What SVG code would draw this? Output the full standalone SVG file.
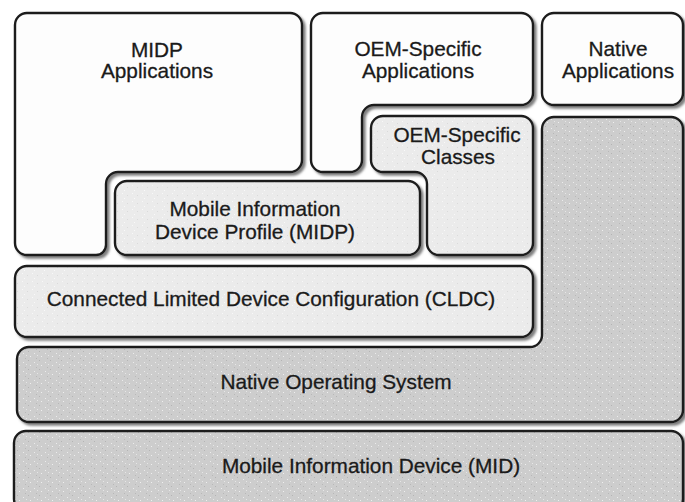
<svg xmlns="http://www.w3.org/2000/svg" width="685" height="502" viewBox="0 0 685 502">
  <defs>
    <!-- stippled fills for the shaded layers -->
    <pattern id="stippleDark" width="11" height="9" patternUnits="userSpaceOnUse">
      <rect width="11" height="9" fill="#cdcdcd"/>
      <rect x="1" y="2" width="1" height="1" fill="#ececec"/>
      <rect x="6" y="0" width="1" height="1" fill="#b4b4b4"/>
      <rect x="8" y="5" width="1" height="1" fill="#efefef"/>
      <rect x="3" y="7" width="1" height="1" fill="#b8b8b8"/>
      <rect x="4" y="4" width="1" height="1" fill="#e6e6e6"/>
    </pattern>
    <pattern id="stippleLight" width="10" height="8" patternUnits="userSpaceOnUse">
      <rect width="10" height="8" fill="#ebebeb"/>
      <rect x="2" y="1" width="1" height="1" fill="#f8f8f8"/>
      <rect x="7" y="3" width="1" height="1" fill="#dadada"/>
      <rect x="4" y="6" width="1" height="1" fill="#f9f9f9"/>
    </pattern>
    <filter id="shadow" x="-5%" y="-5%" width="115%" height="115%">
      <feDropShadow dx="2.5" dy="2.5" stdDeviation="1" flood-color="#6f6f6f" flood-opacity="0.9"/>
    </filter>
  </defs>
  <style>
    .box { stroke: #1c1c1c; stroke-width: 2.4; filter: url(#shadow); }
    .white { fill: #fdfdfd; }
    .light { fill: url(#stippleLight); }
    .dark { fill: url(#stippleDark); }
    .label { font-family: "Liberation Sans", Arial, Helvetica, sans-serif; font-size: 20.8px; fill: #1a1a1a; stroke: #1a1a1a; stroke-width: 0.3; text-anchor: middle; }
  </style>

  <rect width="685" height="502" fill="#ffffff"/>

  <!-- hardware and operating system layers -->
  <g id="mid">
    <rect class="box dark" x="14" y="431" width="669" height="80" rx="12"/>
    <text class="label" x="371" y="473">Mobile Information Device (MID)</text>
  </g>

  <g id="native-os">
    <path class="box dark" d="M554,117 H671 A12,12 0 0 1 683,129 V410 A12,12 0 0 1 671,422 H29 A12,12 0 0 1 17,410 V359 A12,12 0 0 1 29,347 H530 A12,12 0 0 0 542,335 V129 A12,12 0 0 1 554,117 Z"/>
    <text class="label" x="336" y="389">Native Operating System</text>
  </g>

  <!-- Java ME layers -->
  <g id="cldc">
    <rect class="box light" x="15" y="266" width="518" height="71" rx="12"/>
    <text class="label" x="271" y="306">Connected Limited Device Configuration (CLDC)</text>
  </g>

  <g id="midp">
    <rect class="box light" x="115" y="181" width="305" height="74" rx="12"/>
    <text class="label" x="255" y="216">Mobile Information</text>
    <text class="label" x="255" y="239">Device Profile (MIDP)</text>
  </g>

  <g id="oem-classes">
    <path class="box light" d="M383,116 H521 A12,12 0 0 1 533,128 V243 A12,12 0 0 1 521,255 H439 A12,12 0 0 1 427,243 V184 A12,12 0 0 0 415,172 H383 A12,12 0 0 1 371,160 V128 A12,12 0 0 1 383,116 Z"/>
    <text class="label" x="457" y="142">OEM-Specific</text>
    <text class="label" x="458" y="164">Classes</text>
  </g>

  <!-- application layer -->
  <g id="midp-apps">
    <path class="box white" d="M27,13 H290 A12,12 0 0 1 302,25 V160 A12,12 0 0 1 290,172 H118 A12,12 0 0 0 106,184 V245 A10,10 0 0 1 96,255 H27 A12,12 0 0 1 15,243 V25 A12,12 0 0 1 27,13 Z"/>
    <text class="label" x="157" y="57">MIDP</text>
    <text class="label" x="157" y="78">Applications</text>
  </g>

  <g id="oem-apps">
    <path class="box white" d="M323,13 H521 A12,12 0 0 1 533,25 V93 A12,12 0 0 1 521,105 H374 A12,12 0 0 0 362,117 V160 A12,12 0 0 1 350,172 H323 A12,12 0 0 1 311,160 V25 A12,12 0 0 1 323,13 Z"/>
    <text class="label" x="418" y="56">OEM-Specific</text>
    <text class="label" x="418" y="78">Applications</text>
  </g>

  <g id="native-apps">
    <rect class="box white" x="542" y="13" width="141" height="92" rx="12"/>
    <text class="label" x="618" y="56">Native</text>
    <text class="label" x="618" y="78">Applications</text>
  </g>

  <!-- layers stack directly; no connectors are drawn -->
  <g id="connectors"/>
</svg>
